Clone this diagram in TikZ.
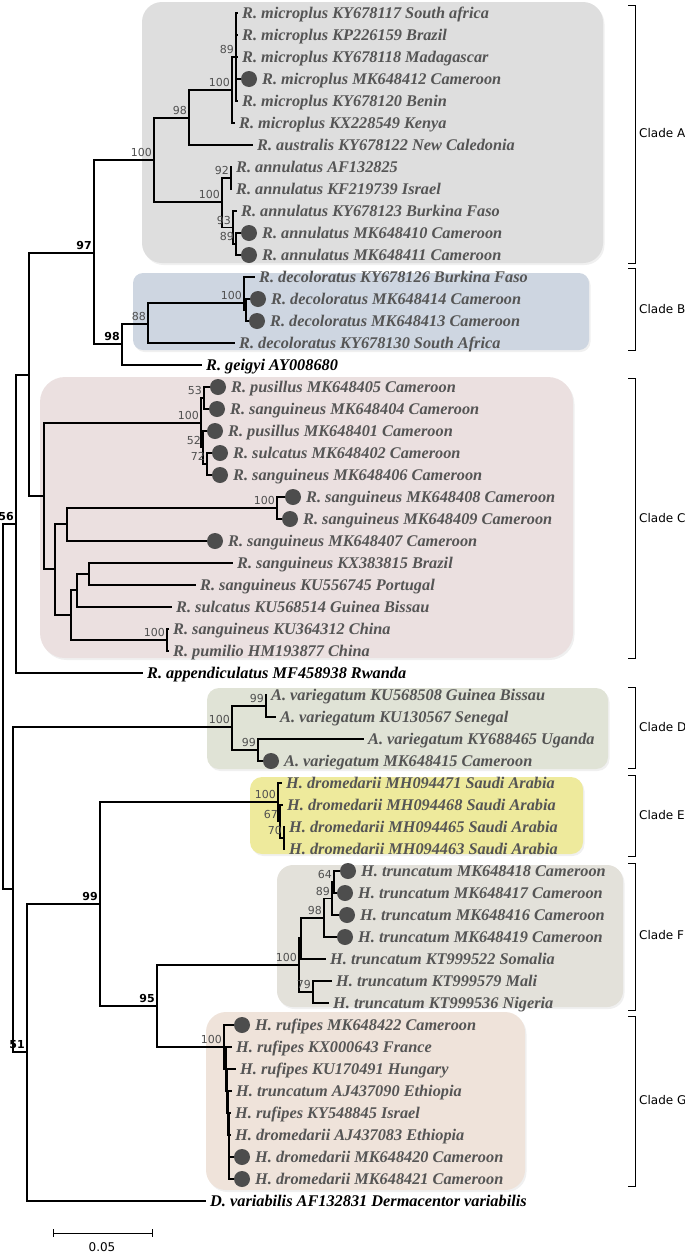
\documentclass[tikz,border=0pt]{standalone}
\usepackage{fontspec}
\setmainfont{Liberation Serif}
\newfontfamily\bootfont{DejaVu Sans}
\newfontfamily\cladefont{DejaVu Sans}
\usetikzlibrary{positioning,shadows}
\definecolor{cladeA}{RGB}{222,222,222}
\definecolor{cladeB}{RGB}{206,214,225}
\definecolor{cladeC}{RGB}{235,224,224}
\definecolor{cladeD}{RGB}{224,227,214}
\definecolor{cladeE}{RGB}{238,234,156}
\definecolor{cladeF}{RGB}{227,225,218}
\definecolor{cladeG}{RGB}{239,227,218}
\definecolor{taxongray}{RGB}{85,85,85}
\definecolor{bootgray}{RGB}{80,80,80}
\definecolor{dotgray}{RGB}{77,77,77}

\begin{document}
\begin{tikzpicture}[
    x=1pt, y=-1pt,
    branch/.style={draw=black, line width=1.1pt},
    leaf/.style={
        anchor=west, inner xsep=4pt, inner ysep=1pt,
        text height=11pt, text depth=0pt, text=taxongray,
        font=\fontsize{16.3}{18}\selectfont\bfseries\itshape
    },
    outgroup/.style={leaf, text=black},
    tipdot/.style={circle, fill=dotgray, minimum size=16pt, inner sep=0pt, outer sep=0pt},
    boot/.style={
        anchor=south east, inner xsep=2pt, inner ysep=3pt,
        text=bootgray, font=\bootfont\fontsize{11}{13}\selectfont
    },
    strongboot/.style={boot, text=black, font=\bootfont\bfseries\fontsize{11}{13}\selectfont},
    cladebox/.style={drop shadow={opacity=0.12, shadow xshift=1.5pt, shadow yshift=-2pt}},
    cladelabel/.style={anchor=west, inner sep=0pt, font=\cladefont\fontsize{12}{14}\selectfont},
    bracket/.style={draw=black, line width=0.9pt}
]
\useasboundingbox (0,0) rectangle (685,1253);

% Clade backgrounds
\path[cladebox, fill=cladeA, rounded corners=20pt] (142,2) rectangle (603,263);
\path[cladebox, fill=cladeB, rounded corners=10pt] (133,273) rectangle (589,350);
\path[cladebox, fill=cladeC, rounded corners=25pt] (40,377) rectangle (573,658);
\path[cladebox, fill=cladeD, rounded corners=12pt] (207,688) rectangle (608,769);
\path[cladebox, fill=cladeE, rounded corners=12pt] (250,777) rectangle (583,854);
\path[cladebox, fill=cladeF, rounded corners=16pt] (277,865) rectangle (623,1007);
\path[cladebox, fill=cladeG, rounded corners=20pt] (206,1012) rectangle (525,1190);

% Internal nodes
\coordinate (root) at (3,706);
\coordinate (n56) at (16,524);
\coordinate (nX) at (29,375);
\coordinate (n97) at (94,253);
\coordinate (nA) at (154,160);
\coordinate (n98a) at (189,118);
\coordinate (nMi) at (232,90);
\coordinate (n89a) at (236,57);
\coordinate (nAn) at (222,202);
\coordinate (n92) at (231,178);
\coordinate (n93) at (233,227.5);
\coordinate (n89b) at (236,244);
\coordinate (n98b) at (122,344);
\coordinate (n88) at (148,324);
\coordinate (nB) at (244,303);
\coordinate (nB2) at (246,310);
\coordinate (nC) at (44,496);
\coordinate (nC1) at (201,423);
\coordinate (n53) at (204,398);
\coordinate (n52) at (203,447.5);
\coordinate (n72) at (207,464);
\coordinate (nC2) at (55,569);
\coordinate (nC3) at (67,524);
\coordinate (nC5) at (277,508);
\coordinate (nC4) at (71,615);
\coordinate (nC6) at (77,590);
\coordinate (nC8) at (89,574);
\coordinate (nC7) at (167,640);
\coordinate (nNR) at (13,889);
\coordinate (nD) at (232,727);
\coordinate (nD1) at (266,706);
\coordinate (nD2) at (258,750);
\coordinate (n51) at (27,1052);
\coordinate (n99) at (100,904);
\coordinate (nE) at (278,802);
\coordinate (n67) at (280,821.5);
\coordinate (n70) at (284,838);
\coordinate (n95) at (157,1006);
\coordinate (nF) at (299,965);
\coordinate (nF1) at (301,938);
\coordinate (n98c) at (324,918);
\coordinate (n89c) at (332,898.5);
\coordinate (n64) at (334,882);
\coordinate (n79) at (313,992);
\coordinate (nG) at (224,1047);
\coordinate (nG1) at (226,1069);
\coordinate (nG2) at (227,1091);
\coordinate (nG3) at (228,1113);
\coordinate (nG4) at (229,1135);

% Clade A
\node[leaf] (t1) at (238,13) {R. microplus KY678117 South africa};
\node[leaf] (t2) at (238,35) {R. microplus KP226159 Brazil};
\node[leaf] (t3) at (238,57) {R. microplus KY678118 Madagascar};
\node[tipdot] (d4) at (249,79) {};
\node[leaf, right=1pt of d4] (t4) {R. microplus MK648412 Cameroon};
\node[leaf] (t5) at (238,101) {R. microplus KY678120 Benin};
\node[leaf] (t6) at (235,123) {R. microplus KX228549 Kenya};
\node[leaf] (t7) at (253,145) {R. australis KY678122 New Caledonia};
\node[leaf] (t8) at (232,167) {R. annulatus AF132825};
\node[leaf] (t9) at (232,189) {R. annulatus KF219739 Israel};
\node[leaf] (t10) at (237,211) {R. annulatus KY678123 Burkina Faso};
\node[tipdot] (d11) at (249,233) {};
\node[leaf, right=1pt of d11] (t11) {R. annulatus MK648410 Cameroon};
\node[tipdot] (d12) at (249,255) {};
\node[leaf, right=1pt of d12] (t12) {R. annulatus MK648411 Cameroon};

% Clade B
\node[leaf] (t13) at (255,277) {R. decoloratus KY678126 Burkina Faso};
\node[tipdot] (d14) at (258,299) {};
\node[leaf, right=1pt of d14] (t14) {R. decoloratus MK648414 Cameroon};
\node[tipdot] (d15) at (257,321) {};
\node[leaf, right=1pt of d15] (t15) {R. decoloratus MK648413 Cameroon};
\node[leaf] (t16) at (235,343) {R. decoloratus KY678130 South Africa};
\node[outgroup] (t17) at (202,365) {R. geigyi AY008680};

% Clade C
\node[tipdot] (d18) at (218,387) {};
\node[leaf, right=1pt of d18] (t18) {R. pusillus MK648405 Cameroon};
\node[tipdot] (d19) at (217,409) {};
\node[leaf, right=1pt of d19] (t19) {R. sanguineus MK648404 Cameroon};
\node[tipdot] (d20) at (215,431) {};
\node[leaf, right=1pt of d20] (t20) {R. pusillus MK648401 Cameroon};
\node[tipdot] (d21) at (220,453) {};
\node[leaf, right=1pt of d21] (t21) {R. sulcatus MK648402 Cameroon};
\node[tipdot] (d22) at (220,475) {};
\node[leaf, right=1pt of d22] (t22) {R. sanguineus MK648406 Cameroon};
\node[tipdot] (d23) at (293,497) {};
\node[leaf, right=1pt of d23] (t23) {R. sanguineus MK648408 Cameroon};
\node[tipdot] (d24) at (290,519) {};
\node[leaf, right=1pt of d24] (t24) {R. sanguineus MK648409 Cameroon};
\node[tipdot] (d25) at (215,541) {};
\node[leaf, right=1pt of d25] (t25) {R. sanguineus MK648407 Cameroon};
\node[leaf] (t26) at (233,563) {R. sanguineus KX383815 Brazil};
\node[leaf] (t27) at (196,585) {R. sanguineus KU556745 Portugal};
\node[leaf] (t28) at (172,607) {R. sulcatus KU568514 Guinea Bissau};
\node[leaf] (t29) at (169,629) {R. sanguineus KU364312 China};
\node[leaf] (t30) at (169,651) {R. pumilio HM193877 China};
\node[outgroup] (t31) at (143,673) {R. appendiculatus MF458938 Rwanda};

% Clade D
\node[leaf] (t32) at (267,695) {A. variegatum KU568508 Guinea Bissau};
\node[leaf] (t33) at (276,717) {A. variegatum KU130567 Senegal};
\node[leaf] (t34) at (364,739) {A. variegatum KY688465 Uganda};
\node[tipdot] (d35) at (271,761) {};
\node[leaf, right=1pt of d35] (t35) {A. variegatum MK648415 Cameroon};

% Clade E
\node[leaf] (t36) at (282,783) {H. dromedarii MH094471 Saudi Arabia};
\node[leaf] (t37) at (283,805) {H. dromedarii MH094468 Saudi Arabia};
\node[leaf] (t38) at (285,827) {H. dromedarii MH094465 Saudi Arabia};
\node[leaf] (t39) at (285,849) {H. dromedarii MH094463 Saudi Arabia};

% Clade F
\node[tipdot] (d40) at (348,871) {};
\node[leaf, right=1pt of d40] (t40) {H. truncatum MK648418 Cameroon};
\node[tipdot] (d41) at (345,893) {};
\node[leaf, right=1pt of d41] (t41) {H. truncatum MK648417 Cameroon};
\node[tipdot] (d42) at (347,915) {};
\node[leaf, right=1pt of d42] (t42) {H. truncatum MK648416 Cameroon};
\node[tipdot] (d43) at (345,937) {};
\node[leaf, right=1pt of d43] (t43) {H. truncatum MK648419 Cameroon};
\node[leaf] (t44) at (326,959) {H. truncatum KT999522 Somalia};
\node[leaf] (t45) at (332,981) {H. truncatum KT999579 Mali};
\node[leaf] (t46) at (329,1003) {H. truncatum KT999536 Nigeria};

% Clade G
\node[tipdot] (d47) at (242,1025) {};
\node[leaf, right=1pt of d47] (t47) {H. rufipes MK648422 Cameroon};
\node[leaf] (t48) at (232,1047) {H. rufipes KX000643 France};
\node[leaf] (t49) at (236,1069) {H. rufipes KU170491 Hungary};
\node[leaf] (t50) at (232,1091) {H. truncatum AJ437090 Ethiopia};
\node[leaf] (t51) at (231,1113) {H. rufipes KY548845 Israel};
\node[leaf] (t52) at (231,1135) {H. dromedarii AJ437083 Ethiopia};
\node[tipdot] (d53) at (242,1157) {};
\node[leaf, right=1pt of d53] (t53) {H. dromedarii MK648420 Cameroon};
\node[tipdot] (d54) at (242,1179) {};
\node[leaf, right=1pt of d54] (t54) {H. dromedarii MK648421 Cameroon};
\node[outgroup] (t55) at (206,1201) {D. variabilis AF132831 Dermacentor variabilis};

% Branches
\draw[branch] (root) |- (n56);
\draw[branch] (root) |- (nNR);
\draw[branch] (n56) |- (nX);
\draw[branch] (n56) |- (t31);
\draw[branch] (nX) |- (n97);
\draw[branch] (nX) |- (nC);
\draw[branch] (n97) |- (nA);
\draw[branch] (n97) |- (n98b);
\draw[branch] (nA) |- (n98a);
\draw[branch] (nA) |- (nAn);
\draw[branch] (n98a) |- (nMi);
\draw[branch] (n98a) |- (t7);
\draw[branch] (nMi) |- (n89a);
\draw[branch] (nMi) |- (t6);
\draw[branch] (n89a) |- (t1);
\draw[branch] (n89a) |- (t2);
\draw[branch] (n89a) |- (t3);
\draw[branch] (n89a) |- (d4);
\draw[branch] (n89a) |- (t5);
\draw[branch] (nAn) |- (n92);
\draw[branch] (nAn) |- (n93);
\draw[branch] (n92) |- (t8);
\draw[branch] (n92) |- (t9);
\draw[branch] (n93) |- (t10);
\draw[branch] (n93) |- (n89b);
\draw[branch] (n89b) |- (d11);
\draw[branch] (n89b) |- (d12);
\draw[branch] (n98b) |- (n88);
\draw[branch] (n98b) |- (t17);
\draw[branch] (n88) |- (nB);
\draw[branch] (n88) |- (t16);
\draw[branch] (nB) |- (t13);
\draw[branch] (nB) |- (nB2);
\draw[branch] (nB2) |- (d14);
\draw[branch] (nB2) |- (d15);
\draw[branch] (nC) |- (nC1);
\draw[branch] (nC) |- (nC2);
\draw[branch] (nC1) |- (n53);
\draw[branch] (nC1) |- (n52);
\draw[branch] (n53) |- (d18);
\draw[branch] (n53) |- (d19);
\draw[branch] (n52) |- (d20);
\draw[branch] (n52) |- (n72);
\draw[branch] (n72) |- (d21);
\draw[branch] (n72) |- (d22);
\draw[branch] (nC2) |- (nC3);
\draw[branch] (nC2) |- (nC4);
\draw[branch] (nC3) |- (nC5);
\draw[branch] (nC3) |- (d25);
\draw[branch] (nC5) |- (d23);
\draw[branch] (nC5) |- (d24);
\draw[branch] (nC4) |- (nC6);
\draw[branch] (nC4) |- (nC7);
\draw[branch] (nC6) |- (nC8);
\draw[branch] (nC6) |- (t28);
\draw[branch] (nC8) |- (t26);
\draw[branch] (nC8) |- (t27);
\draw[branch] (nC7) |- (t29);
\draw[branch] (nC7) |- (t30);
\draw[branch] (nNR) |- (nD);
\draw[branch] (nNR) |- (n51);
\draw[branch] (nD) |- (nD1);
\draw[branch] (nD) |- (nD2);
\draw[branch] (nD1) |- (t32);
\draw[branch] (nD1) |- (t33);
\draw[branch] (nD2) |- (t34);
\draw[branch] (nD2) |- (d35);
\draw[branch] (n51) |- (n99);
\draw[branch] (n51) |- (t55);
\draw[branch] (n99) |- (nE);
\draw[branch] (n99) |- (n95);
\draw[branch] (nE) |- (t36);
\draw[branch] (nE) |- (n67);
\draw[branch] (n67) |- (t37);
\draw[branch] (n67) |- (n70);
\draw[branch] (n70) |- (t38);
\draw[branch] (n70) |- (t39);
\draw[branch] (n95) |- (nF);
\draw[branch] (n95) |- (nG);
\draw[branch] (nF) |- (nF1);
\draw[branch] (nF) |- (n79);
\draw[branch] (nF1) |- (n98c);
\draw[branch] (nF1) |- (t44);
\draw[branch] (n98c) |- (n89c);
\draw[branch] (n98c) |- (d43);
\draw[branch] (n89c) |- (n64);
\draw[branch] (n89c) |- (d42);
\draw[branch] (n64) |- (d40);
\draw[branch] (n64) |- (d41);
\draw[branch] (n79) |- (t45);
\draw[branch] (n79) |- (t46);
\draw[branch] (nG) |- (d47);
\draw[branch] (nG) |- (nG1);
\draw[branch] (nG1) |- (t48);
\draw[branch] (nG1) |- (nG2);
\draw[branch] (nG2) |- (t49);
\draw[branch] (nG2) |- (nG3);
\draw[branch] (nG3) |- (t50);
\draw[branch] (nG3) |- (nG4);
\draw[branch] (nG4) |- (t51);
\draw[branch] (nG4) |- (t52);
\draw[branch] (nG4) |- (d53);
\draw[branch] (nG4) |- (d54);

% Bootstrap values
\node[boot] (b89a) at (n89a) {89};
\node[boot] (bMi) at (nMi) {100};
\node[boot] (b98a) at (n98a) {98};
\node[boot] (bA) at (nA) {100};
\node[boot] (b92) at (n92) {92};
\node[boot] (bAn) at (nAn) {100};
\node[boot] (b93) at (n93) {93};
\node[boot] (b89b) at (n89b) {89};
\node[strongboot] (b97) at (n97) {97};
\node[boot] (bB) at (nB) {100};
\node[boot] (b88) at (n88) {88};
\node[strongboot] (b98b) at (n98b) {98};
\node[boot] (b53) at (n53) {53};
\node[boot] (bC1) at (nC1) {100};
\node[boot] (b52) at (n52) {52};
\node[boot] (b72) at (n72) {72};
\node[boot] (bC5) at (nC5) {100};
\node[boot] (bC7) at (nC7) {100};
\node[strongboot] (b56) at (n56) {56};
\node[boot] (bD) at (nD) {100};
\node[boot] (bD1) at (nD1) {99};
\node[boot] (bD2) at (nD2) {99};
\node[boot] (bE) at (nE) {100};
\node[boot] (b67) at (n67) {67};
\node[boot] (b70) at (n70) {70};
\node[boot] (b64) at (n64) {64};
\node[boot] (b89c) at (n89c) {89};
\node[boot] (b98c) at (n98c) {98};
\node[boot] (bF) at (nF) {100};
\node[boot] (b79) at (n79) {79};
\node[strongboot] (b99) at (n99) {99};
\node[strongboot] (b95) at (n95) {95};
\node[boot] (bG) at (nG) {100};
\node[strongboot] (b51) at (n51) {51};

% Clade brackets
\draw[bracket] (628,5) -- (635,5) -- (635,263) -- (628,263);
\node[cladelabel] (labA) at (639,133) {Clade A};
\draw[bracket] (628,268) -- (635,268) -- (635,350) -- (628,350);
\node[cladelabel] (labB) at (639,309) {Clade B};
\draw[bracket] (628,378) -- (635,378) -- (635,658) -- (628,658);
\node[cladelabel] (labC) at (639,518) {Clade C};
\draw[bracket] (628,687) -- (635,687) -- (635,768) -- (628,768);
\node[cladelabel] (labD) at (639,727) {Clade D};
\draw[bracket] (628,775) -- (635,775) -- (635,856) -- (628,856);
\node[cladelabel] (labE) at (639,815) {Clade E};
\draw[bracket] (628,863) -- (635,863) -- (635,1010) -- (628,1010);
\node[cladelabel] (labF) at (639,935) {Clade F};
\draw[bracket] (628,1016) -- (635,1016) -- (635,1186) -- (628,1186);
\node[cladelabel] (labG) at (639,1100) {Clade G};

% Scale bar
\coordinate (sbL) at (53,1233);
\coordinate (sbR) at (152,1233);
\draw[bracket] (sbL) -- (sbR);
\draw[bracket] ([yshift=4pt]sbL) -- ([yshift=-4pt]sbL);
\draw[bracket] ([yshift=4pt]sbR) -- ([yshift=-4pt]sbR);
\node[cladelabel, anchor=center] (sblabel) at (102,1247) {0.05};

\end{tikzpicture}
\end{document}
